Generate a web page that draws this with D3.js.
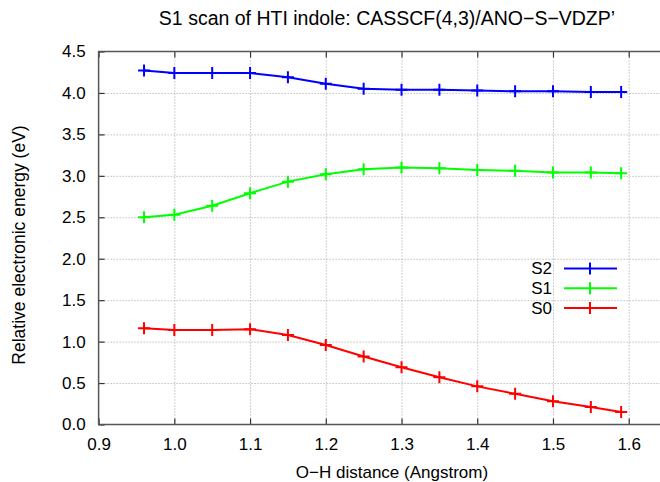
<!DOCTYPE html>
<html>
<head>
<meta charset="utf-8">
<script src="https://cdn.jsdelivr.net/npm/d3@7"></script>
<style>
  body { margin: 0; background: #fff; }
  svg text { font-family: "Liberation Sans", Arial, sans-serif; fill: #000; }
</style>
</head>
<body>
<svg id="chart" width="660" height="482"></svg>
<script>
// O-H distance (Angstrom)
const distance = [0.96, 1.0, 1.05, 1.1, 1.15, 1.2, 1.25, 1.3, 1.35, 1.4, 1.45, 1.5, 1.55, 1.59];
const s2 = [4.27, 4.24, 4.24, 4.24, 4.19, 4.11, 4.05, 4.04, 4.04, 4.03, 4.02, 4.02, 4.01, 4.01];
const s1 = [2.50, 2.53, 2.64, 2.79, 2.93, 3.02, 3.08, 3.10, 3.09, 3.07, 3.06, 3.04, 3.04, 3.03];
const s0 = [1.16, 1.14, 1.14, 1.15, 1.08, 0.96, 0.82, 0.69, 0.57, 0.46, 0.37, 0.28, 0.21, 0.15];
const xTicks = [0.9, 1.0, 1.1, 1.2, 1.3, 1.4, 1.5, 1.6];
const yTicks = [0, 0.5, 1.0, 1.5, 2.0, 2.5, 3.0, 3.5, 4.0, 4.5];
const seriesNames = ["S2", "S1", "S0"];
const seriesColors = ["#0000ff", "#00ff00", "#ff0000"];

const series = [s2, s1, s0].map((vals, i) => ({
  name: seriesNames[i],
  color: seriesColors[i],
  points: vals.map((v, j) => ({ x: distance[j], y: v }))
}));

const padLeft = 98.6, padTop = 51.5, padBottom = 424.5;
const svg = d3.select("#chart");

const x = d3.scaleLinear().domain([0.9, 1.65]).range([padLeft, padLeft + 757.3 * 0.75]);
const y = d3.scaleLinear().domain([0, 4.5]).range([padBottom, padTop]);
const padRight = x(1.65);
const h = padBottom - padTop, w = padRight - padLeft;

// grid
svg.append("g")
  .attr("transform", `translate(0,${padBottom})`)
  .call(d3.axisBottom(x).tickValues(xTicks.slice(1)).tickSize(-h).tickFormat(""))
  .call(g => g.select(".domain").remove())
  .selectAll("line")
  .attr("stroke", "#a0a0a0").attr("stroke-width", 1).attr("stroke-dasharray", "1,2");

svg.append("g")
  .attr("transform", `translate(${padLeft},0)`)
  .call(d3.axisLeft(y).tickValues(yTicks.slice(1, -1)).tickSize(-w).tickFormat(""))
  .call(g => g.select(".domain").remove())
  .selectAll("line")
  .attr("stroke", "#a0a0a0").attr("stroke-width", 1).attr("stroke-dasharray", "1,2");

// lines + markers
const line = d3.line().x(d => x(d.x)).y(d => y(d.y));
const sg = svg.append("g").selectAll("g").data(series).join("g");
sg.append("path")
  .attr("d", d => line(d.points))
  .attr("fill", "none")
  .attr("stroke", d => d.color)
  .attr("stroke-width", 2);
const m = 6;
sg.each(function (s) {
  d3.select(this).selectAll("path.mk").data(s.points).join("path")
    .attr("class", "mk")
    .attr("d", d => `M${x(d.x) - m},${y(d.y)}H${x(d.x) + m}M${x(d.x)},${y(d.y) - m}V${y(d.y) + m}`)
    .attr("stroke", s.color)
    .attr("stroke-width", 2)
    .attr("fill", "none");
});

// axes
const fs = 17;
const xAxis = svg.append("g")
  .attr("transform", `translate(0,${padBottom})`)
  .call(d3.axisBottom(x).tickValues(xTicks).tickSize(-6).tickPadding(13).tickFormat(d3.format(".1f")));
xAxis.select(".domain").remove();
xAxis.selectAll("line").attr("stroke", "#333").attr("stroke-width", 1.2);
xAxis.selectAll("text").attr("font-size", fs).attr("fill", "#000");

const xTop = svg.append("g")
  .attr("transform", `translate(0,${padTop})`)
  .call(d3.axisTop(x).tickValues(xTicks).tickSize(-6).tickFormat(""));
xTop.select(".domain").remove();
xTop.selectAll("line").attr("stroke", "#333").attr("stroke-width", 1.2);

const yAxis = svg.append("g")
  .attr("transform", `translate(${padLeft},0)`)
  .call(d3.axisLeft(y).tickValues(yTicks).tickSize(-6).tickPadding(13).tickFormat(d3.format(".1f")));
yAxis.select(".domain").remove();
yAxis.selectAll("line").attr("stroke", "#333").attr("stroke-width", 1.2);
yAxis.selectAll("text").attr("font-size", fs).attr("fill", "#000");

svg.append("rect")
  .attr("x", padLeft).attr("y", padTop).attr("width", w).attr("height", h)
  .attr("fill", "none").attr("stroke", "#555").attr("stroke-width", 1.5);

// title and labels
svg.append("text")
  .attr("x", 387).attr("y", 25)
  .attr("text-anchor", "middle").attr("font-size", 19.5)
  .text("S1 scan of HTI indole: CASSCF(4,3)/ANO\u2212S\u2212VDZP\u2019");

svg.append("text")
  .attr("x", 392).attr("y", 478)
  .attr("text-anchor", "middle").attr("font-size", fs)
  .text("O\u2212H distance (Angstrom)");

svg.append("text")
  .attr("transform", `translate(25,245) rotate(-90)`)
  .attr("text-anchor", "middle").attr("font-size", 17.5)
  .text("Relative electronic energy (eV)");

// legend
const lg = svg.append("g").selectAll("g").data(series).join("g")
  .attr("transform", (d, i) => `translate(0,${268.5 + i * 19.7})`);
lg.append("text")
  .attr("x", 552).attr("dy", "0.35em")
  .attr("text-anchor", "end").attr("font-size", fs)
  .text(d => d.name);
lg.append("path")
  .attr("d", `M564,0H617M590,${-m}V${m}`)
  .attr("stroke", d => d.color)
  .attr("stroke-width", 2)
  .attr("fill", "none");
</script>
</body>
</html>
